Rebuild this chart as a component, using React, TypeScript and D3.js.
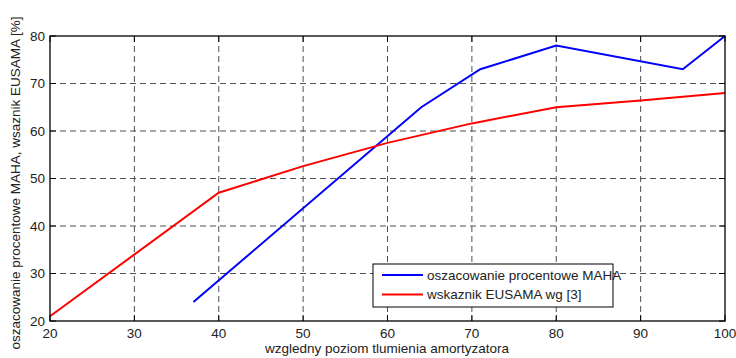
import React from "react"
import { scaleLinear, line } from "d3"

// serie danych
const mahaX = [37, 64, 71, 80, 95, 100]
const mahaY = [24, 65, 73, 78, 73, 80]
const eusamaX = [20, 40, 50, 60, 70, 80, 90, 100]
const eusamaY = [21, 47, 52.6, 57.5, 61.6, 65, 66.4, 68]
const xTicks = [20, 30, 40, 50, 60, 70, 80, 90, 100]
const yTicks = [20, 30, 40, 50, 60, 70, 80]
const seriesNames = ["oszacowanie procentowe MAHA", "wskaznik EUSAMA wg [3]"]
const seriesColors = ["#0000ff", "#ff0000"]

const W = 736
const H = 358
const m = { left: 50, right: 11, top: 36, bottom: 37 }
const font = "Arial, 'Liberation Sans', sans-serif"

export default function App() {
  const x = scaleLinear().domain([20, 100]).range([m.left, W - m.right])
  const y = scaleLinear().domain([20, 80]).range([H - m.bottom, m.top])
  const gen = line<[number, number]>()
    .x((d) => x(d[0]))
    .y((d) => y(d[1]))
  const series = [
    mahaX.map((v, i) => [v, mahaY[i]] as [number, number]),
    eusamaX.map((v, i) => [v, eusamaY[i]] as [number, number]),
  ]
  const x0 = x(20)
  const x1 = x(100)
  const y0 = y(20)
  const y1 = y(80)

  return (
    <svg
      width={W}
      height={H}
      style={{ position: "absolute", left: 0, top: 0, background: "#fff" }}
      fontFamily={font}
    >
      {/* siatka */}
      <g stroke="#333" strokeWidth={1} strokeDasharray="6,4" opacity={0.85}>
        {xTicks.slice(1, -1).map((t) => (
          <line key={t} x1={x(t)} x2={x(t)} y1={y1} y2={y0} />
        ))}
        {yTicks.slice(1, -1).map((t) => (
          <line key={t} x1={x0} x2={x1} y1={y(t)} y2={y(t)} />
        ))}
      </g>

      {/* znaczniki */}
      <g stroke="#000" strokeWidth={1}>
        {xTicks.map((t) => (
          <g key={t}>
            <line x1={x(t)} x2={x(t)} y1={y0} y2={y0 - 6} />
            <line x1={x(t)} x2={x(t)} y1={y1} y2={y1 + 6} />
          </g>
        ))}
        {yTicks.map((t) => (
          <g key={t}>
            <line x1={x0} x2={x0 + 6} y1={y(t)} y2={y(t)} />
            <line x1={x1} x2={x1 - 6} y1={y(t)} y2={y(t)} />
          </g>
        ))}
      </g>

      {/* linie danych */}
      {series.map((s, i) => (
        <path key={i} d={gen(s) ?? ""} fill="none" stroke={seriesColors[i]} strokeWidth={2} />
      ))}

      <rect x={x0} y={y1} width={x1 - x0} height={y0 - y1} fill="none" stroke="#000" strokeWidth={1.3} />

      {/* etykiety osi */}
      <g fontSize={13.5} fill="#222">
        {xTicks.map((t) => (
          <text key={t} x={x(t)} y={y0 + 17} textAnchor="middle">
            {t}
          </text>
        ))}
        {yTicks.map((t) => (
          <text key={t} x={x0 - 5} y={y(t)} dy=".35em" textAnchor="end">
            {t}
          </text>
        ))}
        <text x={387} y={H - 5} textAnchor="middle">
          wzgledny poziom tlumienia amortyzatora
        </text>
        <text transform={`translate(20,183) rotate(-90)`} textAnchor="middle">
          oszacowanie procentowe MAHA, wsaznik EUSAMA [%]
        </text>
      </g>

      {/* legenda */}
      <g>
        <rect x={373} y={264} width={240} height={43} fill="#fff" stroke="#000" strokeWidth={1} />
        {seriesNames.map((n, i) => (
          <g key={n} transform={`translate(0,${275 + i * 19.5})`}>
            <line x1={382} x2={423} y1={0} y2={0} stroke={seriesColors[i]} strokeWidth={2} />
            <text x={427} y={0} dy=".35em" fontSize={13.5} fill="#222">
              {n}
            </text>
          </g>
        ))}
      </g>
    </svg>
  )
}
